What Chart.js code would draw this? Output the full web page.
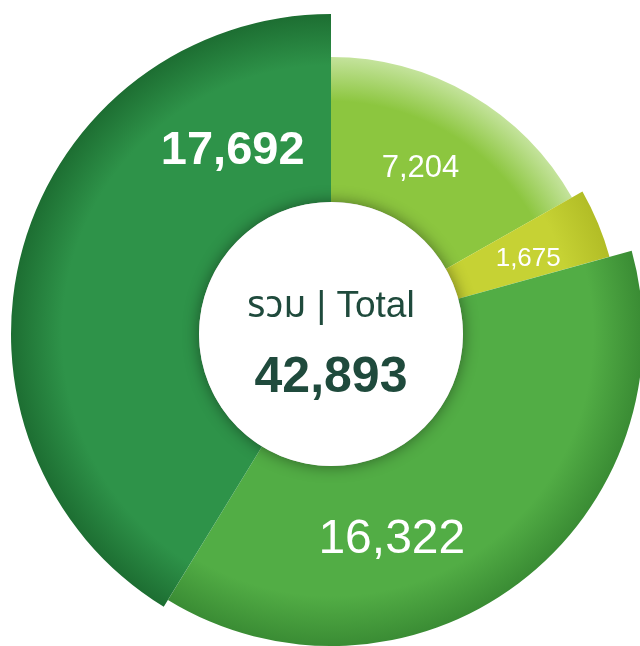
<!DOCTYPE html>
<html>
<head>
<meta charset="utf-8">
<script src="https://cdn.jsdelivr.net/npm/chart.js@4.4.1/dist/chart.umd.min.js"></script>
<style>
  body { margin: 0; background: #fff; }
  #wrap { width: 640px; height: 646px; position: relative; }
</style>
</head>
<body>
<div id="wrap"><canvas id="myChart"></canvas></div>
<script>
// values
var categories = ["A", "B", "C", "D"];
var amounts = [7204, 1675, 16322, 17692];
var valueLabels = ["7,204", "1,675", "16,322", "17,692"];
var centerTitle = "รวม | Total";
var centerValue = "42,893";

// styling per slice
var baseColors = ["#8cc63f", "#c6d234", "#52ad45", "#2e9349"];
var rimColors = ["#c4e39c", "#b2bd26", "#3a8c34", "#1d6e32"];
var outerRadii = [277, 289, 312, 320];
var labelFonts = ["31px 'Liberation Sans', Arial", "26px 'Liberation Sans', Arial",
                  "48px 'Liberation Sans', Arial", "bold 47px 'Liberation Sans', Arial"];
var labelSpot = [0.47, 0.62, 0.65, 0.81];   // how far along the arc
var labelDist = [188, 211, 215, 208];       // distance from centre

function sliceFill(ctx){
  var i = ctx.dataIndex;
  var area = ctx.chart.chartArea;
  if (!area) return baseColors[i];
  var cx = (area.left + area.right) / 2;
  var cy = (area.top + area.bottom) / 2;
  var g = ctx.chart.ctx.createRadialGradient(cx, cy, 0, cx, cy, outerRadii[i]);
  g.addColorStop(0, baseColors[i]);
  g.addColorStop(0.84, baseColors[i]);
  g.addColorStop(1, rimColors[i]);
  return g;
}

var ringPlugin = {
  id: "ring",
  beforeDatasetsDraw: function(chart){
    var meta = chart.getDatasetMeta(0);
    for (var i = 0; i < meta.data.length; i++){
      meta.data[i].outerRadius = outerRadii[i];
    }
  },
  afterDatasetsDraw: function(chart){
    var c = chart.ctx;
    var meta = chart.getDatasetMeta(0);
    var first = meta.data[0];
    var cx = first.x, cy = first.y, r = first.innerRadius;

    // white hub with soft shadow
    c.save();
    c.shadowColor = "rgba(0,0,0,0.45)";
    c.shadowBlur = 16;
    c.fillStyle = "#ffffff";
    c.beginPath();
    c.arc(cx, cy, r, 0, Math.PI * 2);
    c.fill();
    c.restore();

    c.save();
    c.textAlign = "center";
    c.textBaseline = "middle";
    c.fillStyle = "#1f4a3c";
    c.font = "37px 'Liberation Sans', Arial, 'Noto Sans Thai', sans-serif";
    c.fillText(centerTitle, cx, cy - 27);
    c.font = "bold 50px 'Liberation Sans', Arial, sans-serif";
    c.fillText(centerValue, cx, cy + 44);

    // slice numbers
    c.fillStyle = "#ffffff";
    for (var i = 0; i < meta.data.length; i++){
      var a = meta.data[i];
      var ang = a.startAngle + labelSpot[i] * (a.endAngle - a.startAngle);
      c.font = labelFonts[i];
      c.fillText(valueLabels[i], cx + labelDist[i] * Math.cos(ang), cy + labelDist[i] * Math.sin(ang));
    }
    c.restore();
  }
};

var ctx = document.querySelector("#myChart").getContext("2d");
var ringChart = new Chart(ctx, {
  type: "doughnut",
  data: {
    labels: categories,
    datasets: [{
      data: amounts,
      backgroundColor: sliceFill,
      borderWidth: 0
    }]
  },
  options: {
    responsive: true,
    maintainAspectRatio: false,
    animation: false,
    cutout: 132,
    layout: { padding: { left: 22, top: 22, right: 0, bottom: 0 } },
    plugins: {
      legend: { display: false },
      tooltip: { enabled: false }
    }
  },
  plugins: [ringPlugin]
});
</script>
</body>
</html>
